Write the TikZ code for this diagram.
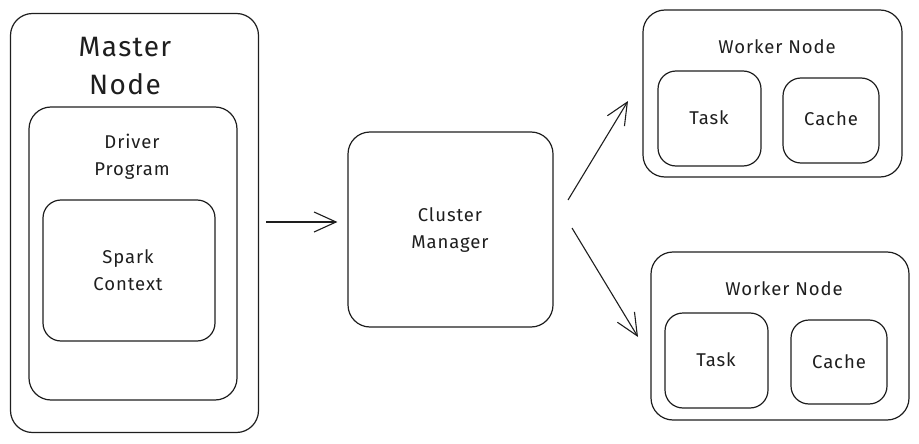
\documentclass[tikz,border=0pt]{standalone}
\usepackage{fontspec}
\setmainfont{Fira Sans}[LetterSpace=5]
\usetikzlibrary{arrows.meta}
\definecolor{ink}{HTML}{1E1E1E}
\tikzset{
  box/.style={draw=ink, line width=1.2pt, rounded corners=22pt, inner sep=0pt},
  smallbox/.style={draw=ink, line width=1.2pt, rounded corners=18pt, inner sep=0pt},
  lbl/.style={text=ink, font=\fontsize{18.5}{27}\selectfont, align=center, inner sep=0pt},
  biglbl/.style={text=ink, font=\fontsize{28}{38}\selectfont, align=center, inner sep=0pt},
  arr/.style={draw=ink, line width=1.1pt, -{Straight Barb[length=22pt,width=20pt,line width=1.1pt]}}
}
\begin{document}
\begin{tikzpicture}[x=1pt,y=-1pt]
\useasboundingbox (0,0) rectangle (919,444);

% master node with driver program and spark context
\node[box, minimum width=248pt, minimum height=419pt] (master) at (134.5,223) {};
\node[biglbl] (masterlbl) at (125,66) {Master\\Node};
\node[box, minimum width=208pt, minimum height=293pt] (driver) at (133,253.5) {};
\node[lbl] (driverlbl) at (132,157) {Driver\\Program};
\node[smallbox, minimum width=172pt, minimum height=141pt] (spark) at (129,270.5) {};
\node[lbl] (sparklbl) at (128,270) {Spark\\Context};

% cluster manager
\node[box, minimum width=205pt, minimum height=195pt] (cm) at (450.5,229.5) {};
\node[lbl] (cmlbl) at (450,230) {Cluster\\Manager};

% upper worker
\node[box, minimum width=259pt, minimum height=167pt] (w1) at (772.5,93.5) {};
\node[lbl] (w1lbl) at (777,47) {Worker Node};
\node[smallbox, minimum width=103pt, minimum height=95pt] (t1) at (709.5,118.5) {};
\node[lbl] (t1lbl) at (709,118) {Task};
\node[smallbox, minimum width=96pt, minimum height=85pt] (c1) at (831,120.5) {};
\node[lbl] (c1lbl) at (831,119) {Cache};

% lower worker
\node[box, minimum width=258pt, minimum height=168pt] (w2) at (780,336) {};
\node[lbl] (w2lbl) at (784,289) {Worker Node};
\node[smallbox, minimum width=103pt, minimum height=95pt] (t2) at (716.5,360.5) {};
\node[lbl] (t2lbl) at (716,360) {Task};
\node[smallbox, minimum width=96pt, minimum height=84pt] (c2) at (839,362) {};
\node[lbl] (c2lbl) at (839,362) {Cache};

% connectors
\draw[arr, shorten <=7pt, shorten >=10pt] (master.east |- 0,222) -- (cm.west |- 0,222);
\coordinate (upfrom) at (568,200);
\coordinate (upto) at (628,101);
\coordinate (downfrom) at (572,228);
\coordinate (downto) at (638,337);
\draw[arr] (upfrom) -- (upto);
\draw[arr] (downfrom) -- (downto);
\end{tikzpicture}
\end{document}
